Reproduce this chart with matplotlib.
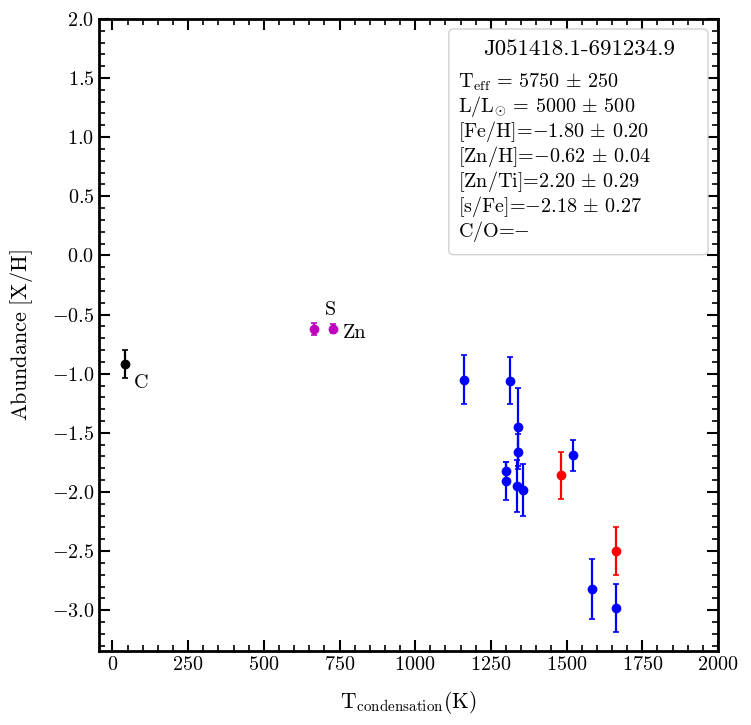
import matplotlib
matplotlib.use('Agg')
import matplotlib.pyplot as plt
from matplotlib.patches import FancyBboxPatch
from matplotlib.ticker import MultipleLocator

plt.rcParams['font.family'] = 'serif'
plt.rcParams['font.serif'] = ['cmr10']
plt.rcParams['mathtext.fontset'] = 'cm'
plt.rcParams['axes.formatter.use_mathtext'] = True

# condensation temperature (K), abundance [X/H], error
tc_blue = [1161, 1312, 1339, 1338, 1299, 1299, 1337, 1356, 1520, 1585, 1662]
ab_blue = [-1.05, -1.06, -1.45, -1.66, -1.82, -1.91, -1.95, -1.98, -1.69, -2.82, -2.98]
err_blue = [0.21, 0.20, 0.33, 0.15, 0.07, 0.16, 0.22, 0.22, 0.13, 0.25, 0.20]

tc_red = [1481, 1662]
ab_red = [-1.86, -2.50]
err_red = [0.20, 0.20]

tc_mag = [667, 729]
ab_mag = [-0.62, -0.62]
err_mag = [0.05, 0.04]

tc_c = [42]
ab_c = [-0.92]
err_c = [0.12]

labels = ['C', 'S', 'Zn']
label_x = [70, 700, 760]
label_y = [-1.08, -0.46, -0.66]

star = 'J051418.1-691234.9'
info = [r'$\mathrm{T_{eff}}\,=\,5750\,\pm\,250$',
        r'$\mathrm{L/L_{\odot}}\,=\,5000\,\pm\,500$',
        r'$\mathrm{[Fe/H]}$=$-1.80\,\pm\,0.20$',
        r'$\mathrm{[Zn/H]}$=$-0.62\,\pm\,0.04$',
        r'$\mathrm{[Zn/Ti]}$=$2.20\,\pm\,0.29$',
        r'$\mathrm{[s/Fe]}$=$-2.18\,\pm\,0.27$',
        r'$\mathrm{C/O}$=$-$']

fig = plt.figure(figsize=(7.51, 7.25), dpi=100)
ax = fig.add_axes([0.132, 0.102, 0.824, 0.872])

kw = dict(fmt='o', ms=6, capsize=2, elinewidth=1.6, capthick=1.2)
ax.errorbar(tc_blue, ab_blue, yerr=err_blue, color='b', **kw)
ax.errorbar(tc_red, ab_red, yerr=err_red, color='r', **kw)
ax.errorbar(tc_mag, ab_mag, yerr=err_mag, color='m', **kw)
ax.errorbar(tc_c, ab_c, yerr=err_c, color='k', **kw)

for lab, x, y in zip(labels, label_x, label_y):
    ax.text(x, y, lab, fontsize=14.5, ha='left', va='center')

ax.set_xlim(-44, 2000)
ax.set_ylim(-3.345, 2.0)
ax.xaxis.set_major_locator(MultipleLocator(250))
ax.xaxis.set_minor_locator(MultipleLocator(50))
ax.yaxis.set_major_locator(MultipleLocator(0.5))
ax.yaxis.set_minor_locator(MultipleLocator(0.1))
ax.tick_params(which='both', direction='in', top=True, right=True, labelsize=14.5)
ax.tick_params(which='major', length=8, width=1.5)
ax.tick_params(which='minor', length=4, width=1.2)
for s in ax.spines.values():
    s.set_linewidth(2)

ax.set_xlabel(r'$\mathrm{T_{condensation}(K)}$', fontsize=15.5, labelpad=11)
ax.set_ylabel(r'$\mathrm{Abundance\ [X/H]}$', fontsize=16, labelpad=12)

# info box
box = FancyBboxPatch((0.565, 0.627), 0.419, 0.357, transform=ax.transAxes,
                     boxstyle='round,pad=0,rounding_size=0.008',
                     facecolor='white', edgecolor='0.8', linewidth=1, alpha=0.9, zorder=5)
ax.add_patch(box)
ax.text(0.775, (651 - 55) / 632, star, transform=ax.transAxes, fontsize=16.5,
        ha='center', va='baseline', zorder=6)
for i, line in enumerate(info):
    ax.text(0.58, (651 - 87.5 - 25 * i) / 632, line, transform=ax.transAxes,
            fontsize=14.5, ha='left', va='baseline', zorder=6)

fig.savefig('out.png', dpi=100)
